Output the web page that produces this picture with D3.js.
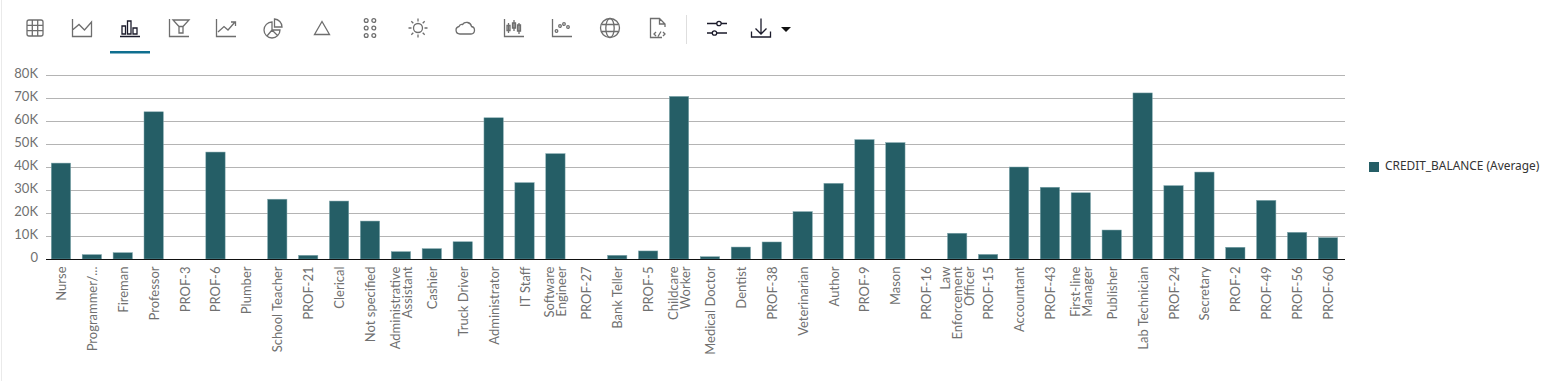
<!DOCTYPE html>
<html><head><meta charset="utf-8">
<script src="https://cdn.jsdelivr.net/npm/d3@7"></script>
<style>
html,body{margin:0;padding:0;background:#fff;overflow:hidden}
svg{display:block}
.tick text{font-family:Lato,"Open Sans",sans-serif;font-size:13px;fill:#707070}
.legend{font-family:"Noto Sans","Open Sans",sans-serif;font-size:11.9px;fill:#333}
</style></head><body>
<svg id="c" width="1554" height="381"></svg>
<script>
const categories = ["Nurse","Programmer/...","Fireman","Professor","PROF-3","PROF-6","Plumber","School Teacher","PROF-21","Clerical","Not specified","Administrative|Assistant","Cashier","Truck Driver","Administrator","IT Staff","Software|Engineer","PROF-27","Bank Teller","PROF-5","Childcare|Worker","Medical Doctor","Dentist","PROF-38","Veterinarian","Author","PROF-9","Mason","PROF-16","Law|Enforcement|Officer","PROF-15","Accountant","PROF-43","First-line|Manager","Publisher","Lab Technician","PROF-24","Secretary","PROF-2","PROF-49","PROF-56","PROF-60"];
const creditBalance = [41700,1900,2750,64000,0,46500,0,26000,1600,25200,16500,3200,4500,7500,61400,33200,45800,0,1600,3500,70700,1000,5200,7400,20600,32900,51900,50600,0,11200,2000,40000,31200,28800,12600,72200,31900,37800,5100,25500,11600,9300];
const yTicks = [0,10000,20000,30000,40000,50000,60000,70000,80000];
const seriesName = "CREDIT_BALANCE (Average)";

const svg = d3.select("#c");
const barColor = "#255e66";
svg.append("rect").attr("x",1).attr("y",0).attr("width",1).attr("height",381).attr("fill","#eaeaea");

const x = d3.scaleBand().domain(categories).range([45.5,1343.5]).paddingInner(0.375).paddingOuter(0.1875);
const y = d3.scaleLinear().domain([0,80000]).range([259,75]);

// gridlines
svg.append("g").selectAll("line").data(yTicks.slice(1)).join("line")
  .attr("x1",46).attr("x2",1345).attr("y1",d=>Math.floor(y(d))+.5).attr("y2",d=>Math.floor(y(d))+.5)
  .attr("stroke","#b4b4b4").attr("stroke-width",1);

// y axis
const yAxis = svg.append("g").attr("transform","translate(46,-1.5)")
  .call(d3.axisLeft(y).tickValues(yTicks).tickSize(0).tickPadding(8).tickFormat(d=>d===0?"0":(d/1000)+"K"));
yAxis.select(".domain").remove();
yAxis.selectAll("text").style("font-size","13px").style("fill","#707070");

// bars
svg.append("g").selectAll("rect").data(categories).join("rect")
  .attr("x",d=>x(d)).attr("width",x.bandwidth())
  .attr("y",(d,i)=>y(creditBalance[i])).attr("height",(d,i)=>y(0)-y(creditBalance[i]))
  .attr("fill",barColor).attr("stroke","#7fa6ac").attr("stroke-width",.5);

// x axis
const xAxis = svg.append("g").attr("transform","translate(0,259)")
  .call(d3.axisBottom(x).tickSize(0).tickFormat(""));
xAxis.select(".domain").attr("stroke","#111").attr("stroke-width",1).attr("d","M46,0.5H1345");
xAxis.selectAll(".tick").each(function(d){
  const lines = d.split("|");
  const t = d3.select(this).select("text")
    .attr("transform","rotate(-90)").attr("text-anchor","end")
    .attr("x",-7.5).attr("y",0).attr("dy",null);
  t.text(null);
  lines.forEach((s,i)=>{
    t.append("tspan").attr("x",-7.5).attr("y",(i-(lines.length-1)/2)*12+5).text(s);
  });
});

// legend
svg.append("rect").attr("x",1369).attr("y",162).attr("width",10).attr("height",10).attr("fill",barColor);
svg.append("text").attr("class","legend").attr("x",1385).attr("y",170).text(seriesName);

// toolbar icons
const gray="#6e6e6e", dark="#1b1b2b";
const icon=(cx,col,draw)=>{const g=svg.append("g").attr("transform",`translate(${cx},28)`)
  .attr("fill","none").attr("stroke",col).attr("stroke-width",1.3);draw(g);};
const P=(g,d)=>g.append("path").attr("d",d);
const C=(g,x0,y0,r)=>g.append("circle").attr("cx",x0).attr("cy",y0).attr("r",r);
icon(35,gray,g=>{g.append("rect").attr("x",-8).attr("y",-8).attr("width",16).attr("height",16).attr("rx",2);
  P(g,"M-8,-2.7H8M-8,2.7H8M-2.7,-8V8M2.7,-8V8");});
icon(82,gray,g=>P(g,"M-9.5,-9V8.5H10M-9.5,2L-3,-3.5L2.5,2L9.5,-6V8.5"));
icon(130,dark,g=>P(g,"M-10,8.5H10M-8,6V-2H-4.5V6ZM-2.5,6V-7H1V6ZM3,6V0H7V6Z"));
icon(179,gray,g=>P(g,"M-9.5,-9V8.5H10M-6,-8H10L4,-1.5H0ZM0,-1.5V5H4V-1.5"));
icon(226,gray,g=>P(g,"M-9.5,-9V8.5H10M-8,4L-2,-1.5L2,2L9,-6M5,-6H9.5V-2"));
icon(273,gray,g=>{P(g,"M-1,-6A8,8 0 1 0 7,2H-1ZM1.5,-9A8,8 0 0 1 9,-1H1.5ZM-1,2L-6,8M-1,2L5,8");});
icon(322,gray,g=>P(g,"M0,-6.5L7.5,6.5H-7.5Z"));
icon(370,gray,g=>{[-7.5,0,7.5].forEach(v=>{C(g,-3.8,v,1.9);C(g,3.8,v,1.9);});});
icon(418,gray,g=>{C(g,0,0,4.5);P(g,"M0,-9.5V-6.5M0,6.5V9.5M-9.5,0H-6.5M6.5,0H9.5M-6.7,-6.7L-4.7,-4.7M4.7,4.7L6.7,6.7M-6.7,6.7L-4.7,4.7M4.7,-4.7L6.7,-6.7");});
icon(465,gray,g=>P(g,"M-5,6H6A3.8,3.8 0 0 0 6.5,-1.5A5,5 0 0 0 -2.5,-3.5A3,3 0 0 0 -6,-1.5A3.8,3.8 0 0 0 -5,6Z"));
icon(514,gray,g=>P(g,"M-9.5,-9V8.5H10M-5.5,-5V5M-7,-2.5H-4V2.5H-7ZM0,-8V3M-1.5,-5H1.5V0H-1.5ZM5,-5V6M3.5,-3H6.5V3H3.5Z"));
icon(562,gray,g=>{P(g,"M-9.5,-9V8.5H10");[[-5.5,3],[-2,-2],[2,-4],[6,-1]].forEach(p=>C(g,p[0],p[1],1.3));});
icon(610,gray,g=>{C(g,0,0,9.5);g.append("ellipse").attr("rx",4.2).attr("ry",9.5);P(g,"M-8.5,-3.5H8.5M-8.5,3.5H8.5");});
icon(658,gray,g=>P(g,"M4,9.5H-7.5V-9.5H1.5L7,-4V-1M1.5,-9.5V-4H7M-2,4L-4,6L-2,8M5,4L7,6L5,8M0,8.5L3,3.5"));
svg.append("line").attr("x1",686.5).attr("x2",686.5).attr("y1",15).attr("y2",44).attr("stroke","#dedede");
icon(717,dark,g=>{P(g,"M-10,-4.5H0M4,-4.5H10M-10,5H-4.5M-0.5,5H10");C(g,2,-4.5,2.2);C(g,-2.5,5,2.2);});
icon(761,dark,g=>P(g,"M0,-9.5V6M-5.5,0.5L0,6L5.5,0.5M-9.5,3.5V9H9.5V3.5"));
svg.append("path").attr("d","M781,27H791L786,32Z").attr("fill","#111");
svg.append("rect").attr("x",110).attr("y",51).attr("width",40).attr("height",2.5).attr("fill","#0f6f8f");
</script></body></html>
